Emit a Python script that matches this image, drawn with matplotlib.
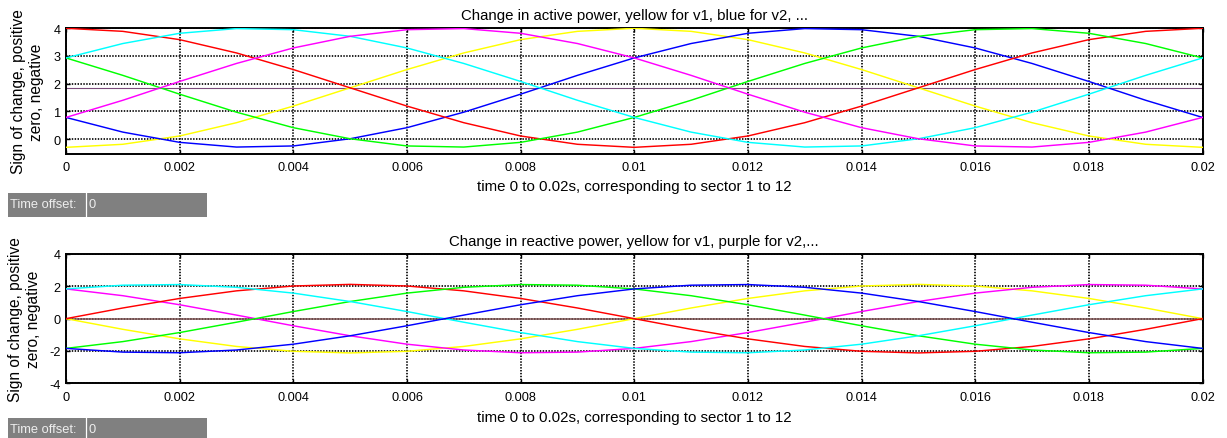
import matplotlib
matplotlib.use("Agg")
import matplotlib.pyplot as plt
from matplotlib.patches import Rectangle
from matplotlib.lines import Line2D

plt.rcParams['font.family'] = ['Liberation Sans', 'DejaVu Sans']
plt.rcParams['axes.unicode_minus'] = False

# ---------------- data ----------------
time_s = [0.000, 0.001, 0.002, 0.003, 0.004, 0.005, 0.006, 0.007, 0.008, 0.009, 0.010,
          0.011, 0.012, 0.013, 0.014, 0.015, 0.016, 0.017, 0.018, 0.019, 0.020]

# Top panel: change in active power
active_yellow  = [-0.30, -0.19, 0.11, 0.59, 1.19, 1.85, 2.51, 3.11, 3.59, 3.89, 4.00,
                  3.89, 3.59, 3.11, 2.51, 1.85, 1.19, 0.59, 0.11, -0.19, -0.30]
active_red     = [4.00, 3.89, 3.59, 3.11, 2.51, 1.85, 1.19, 0.59, 0.11, -0.19, -0.30,
                  -0.19, 0.11, 0.59, 1.19, 1.85, 2.51, 3.11, 3.59, 3.89, 4.00]
active_blue    = [0.78, 0.25, -0.12, -0.29, -0.25, 0.01, 0.41, 0.97, 1.62, 2.30, 2.93,
                  3.45, 3.82, 3.99, 3.95, 3.71, 3.29, 2.73, 2.08, 1.40, 0.78]
active_cyan    = [2.93, 3.45, 3.82, 3.99, 3.95, 3.71, 3.29, 2.73, 2.08, 1.40, 0.78,
                  0.25, -0.12, -0.29, -0.25, 0.01, 0.41, 0.97, 1.62, 2.30, 2.93]
active_green   = [2.93, 2.30, 1.62, 0.97, 0.41, 0.01, -0.25, -0.29, -0.12, 0.25, 0.78,
                  1.40, 2.08, 2.73, 3.29, 3.71, 3.95, 3.99, 3.82, 3.45, 2.93]
active_magenta = [0.78, 1.40, 2.08, 2.73, 3.29, 3.71, 3.95, 3.99, 3.82, 3.45, 2.93,
                  2.30, 1.62, 0.97, 0.41, 0.01, -0.25, -0.29, -0.12, 0.25, 0.78]
active_ref_level = 1.83

# Bottom panel: change in reactive power
reactive_red     = [0.00, 0.66, 1.25, 1.72, 2.02, 2.12, 2.02, 1.72, 1.25, 0.66, 0.00,
                    -0.66, -1.25, -1.72, -2.02, -2.12, -2.02, -1.72, -1.25, -0.66, 0.00]
reactive_yellow  = [0.00, -0.66, -1.25, -1.72, -2.02, -2.12, -2.02, -1.72, -1.25, -0.66, 0.00,
                    0.66, 1.25, 1.72, 2.02, 2.12, 2.02, 1.72, 1.25, 0.66, 0.00]
reactive_magenta = [1.84, 1.42, 0.86, 0.22, -0.44, -1.06, -1.58, -1.94, -2.11, -2.07, -1.84,
                    -1.42, -0.86, -0.22, 0.44, 1.06, 1.58, 1.94, 2.11, 2.07, 1.84]
reactive_green   = [-1.84, -1.42, -0.86, -0.22, 0.44, 1.06, 1.58, 1.94, 2.11, 2.07, 1.84,
                    1.42, 0.86, 0.22, -0.44, -1.06, -1.58, -1.94, -2.11, -2.07, -1.84]
reactive_cyan    = [1.84, 2.07, 2.11, 1.94, 1.58, 1.06, 0.44, -0.22, -0.86, -1.42, -1.84,
                    -2.07, -2.11, -1.94, -1.58, -1.06, -0.44, 0.22, 0.86, 1.42, 1.84]
reactive_blue    = [-1.84, -2.07, -2.11, -1.94, -1.58, -1.06, -0.44, 0.22, 0.86, 1.42, 1.84,
                    2.07, 2.11, 1.94, 1.58, 1.06, 0.44, -0.22, -0.86, -1.42, -1.84]
reactive_ref_level = 0.0

x_ticks = [0, 0.002, 0.004, 0.006, 0.008, 0.010, 0.012, 0.014, 0.016, 0.018, 0.020]
x_tick_labels = ['0', '0.002', '0.004', '0.006', '0.008', '0.01', '0.012', '0.014',
                 '0.016', '0.018', '0.02']
top_y_ticks = [0, 1, 2, 3, 4]
top_y_labels = ['0', '1', '2', '3', '4']
bot_y_ticks = [-4, -2, 0, 2, 4]
bot_y_labels = ['-4', '-2', '0', '2', '4']

title_top = 'Change in active power, yellow for v1, blue for v2, ...'
title_bot = 'Change in reactive power, yellow for v1, purple for v2,...'
xlabel_text = 'time 0 to 0.02s, corresponding to sector 1 to 12'
ylabel_text = 'Sign of change, positive\nzero, negative'

# ---------------- layout ----------------
W, H = 1227, 439
fig = plt.figure(figsize=(W / 100, H / 100), dpi=100)


def fx(px):
    return px / W


def fy(py):
    return 1 - py / H


def make_axes(left, top, right, bottom):
    return fig.add_axes([fx(left), fy(bottom), fx(right) - fx(left), fy(top) - fy(bottom)])


ax1 = make_axes(66, 29.3, 1202.5, 154.7)
ax2 = make_axes(66, 255, 1202.5, 384.3)

colors = {'yellow': '#FFFF00', 'red': '#FF0000', 'blue': '#0000FF',
          'cyan': '#00FFFF', 'green': '#00FF00', 'magenta': '#FF00FF'}


def style_axes(ax, yticks, ylabels, ylim):
    ax.set_xlim(0, 0.02)
    ax.set_ylim(*ylim)
    ax.set_xticks(x_ticks)
    ax.set_xticklabels(x_tick_labels)
    ax.set_yticks(yticks)
    ax.set_yticklabels(ylabels)
    ax.tick_params(axis='both', direction='in', length=3, width=1.0,
                   top=True, right=True, labelsize=9.2, colors='black')
    ax.tick_params(axis='x', pad=5.5)
    ax.tick_params(axis='y', pad=3.6)
    ax.grid(True, color='#111111', linestyle=(0, (0.8, 0.8)), linewidth=1.3)
    for s in ax.spines.values():
        s.set_linewidth(1.4)
        s.set_color('black')


style_axes(ax1, top_y_ticks, top_y_labels, (-0.53, 4.0))
style_axes(ax2, bot_y_ticks, bot_y_labels, (-4, 4))

# top panel curves
ax1.axhline(active_ref_level, color='#7a4a7a', lw=0.8, zorder=2)
for series, c in [(active_yellow, 'yellow'), (active_blue, 'blue'), (active_red, 'red'),
                  (active_green, 'green'), (active_cyan, 'cyan'), (active_magenta, 'magenta')]:
    ax1.plot(time_s, series, color=colors[c], lw=1.05, zorder=3)

# bottom panel curves
ax2.axhline(reactive_ref_level, color='#7f5555', lw=1.1, zorder=2)
for series, c in [(reactive_yellow, 'yellow'), (reactive_magenta, 'magenta'), (reactive_red, 'red'),
                  (reactive_green, 'green'), (reactive_cyan, 'cyan'), (reactive_blue, 'blue')]:
    ax2.plot(time_s, series, color=colors[c], lw=1.05, zorder=3)

# titles and labels (figure text at measured positions)
cx = (66 + 1202.5) / 2
fig.text(fx(cx), fy(20.0), title_top, ha='center', va='baseline', fontsize=10.8)
fig.text(fx(cx), fy(245.7), title_bot, ha='center', va='baseline', fontsize=10.8)
fig.text(fx(cx), fy(190.7), xlabel_text, ha='center', va='baseline', fontsize=10.8)
fig.text(fx(cx), fy(422.4), xlabel_text, ha='center', va='baseline', fontsize=10.8)
fig.text(fx(28), fy(92), ylabel_text, rotation=90, ha='center', va='center',
         multialignment='center', fontsize=11.2, linespacing=1.25)
fig.text(fx(24.5), fy(319.7), ylabel_text, rotation=90, ha='center', va='center',
         multialignment='center', fontsize=11.2, linespacing=1.25)


# "Time offset" widgets
def time_offset_box(top, bottom, baseline):
    fig.add_artist(Rectangle((fx(8), fy(bottom)), fx(206.7) - fx(8), fy(top) - fy(bottom),
                             transform=fig.transFigure, facecolor='#808080',
                             edgecolor='none'))
    fig.add_artist(Line2D([fx(86), fx(86)], [fy(bottom), fy(top)], transform=fig.transFigure,
                          color='white', lw=0.9))
    fig.text(fx(9.5), fy(baseline), 'Time offset:', ha='left', va='baseline',
             fontsize=9.3, color='#eeeeee')
    fig.text(fx(88.5), fy(baseline), '0', ha='left', va='baseline',
             fontsize=9.3, color='#eeeeee')


time_offset_box(194.3, 217.7, 207.7)
time_offset_box(419.0, 442.0, 433.3)

fig.savefig('out.png', dpi=100)
